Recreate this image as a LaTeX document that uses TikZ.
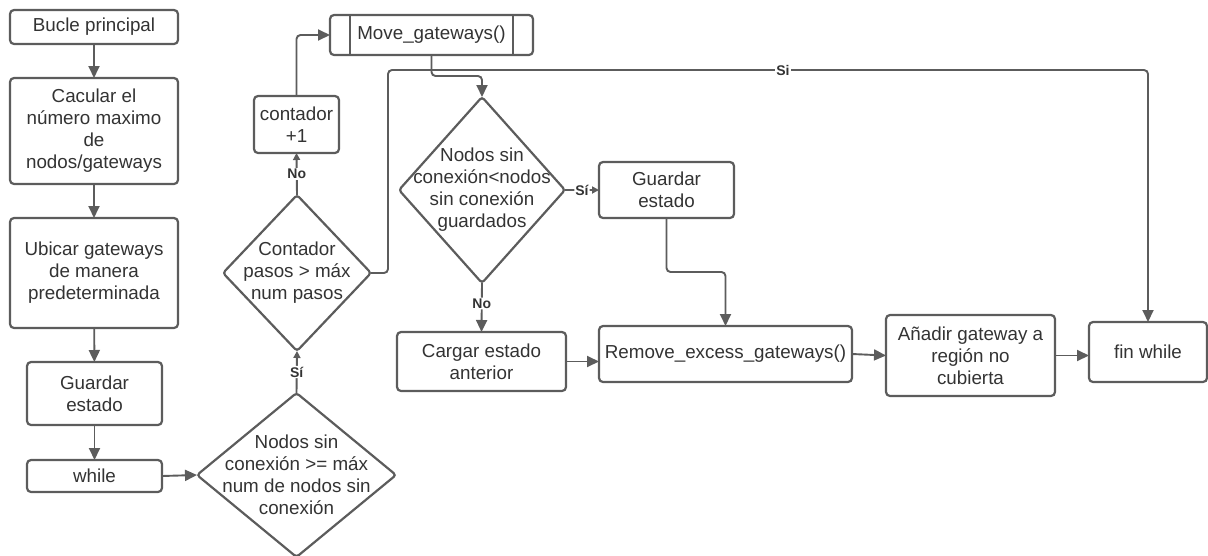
\documentclass[tikz,border=0pt]{standalone}
\usepackage{fontspec}
\setmainfont{Liberation Sans}
\usetikzlibrary{arrows.meta,shapes.geometric,calc}
\definecolor{lc}{HTML}{5C5C5C}
\definecolor{tc}{HTML}{333333}
\tikzset{
  base/.style={draw=lc, line width=2.2pt, fill=white, text=tc, align=center, inner sep=0pt, outer sep=0pt,
    font=\fontsize{18.8}{22}\selectfont},
  box/.style={base, rounded corners=4pt},
  dia/.style={draw=lc, line width=2.2pt, shape=diamond, inner sep=0pt, outer sep=0pt, rounded corners=3pt},
  dtext/.style={text=tc, align=center, inner sep=0pt, font=\fontsize{18.8}{22}\selectfont},
  conn/.style={draw=lc, line width=1.9pt, rounded corners=4pt, -{Triangle[length=12pt,width=11pt]}},
  sconn/.style={draw=lc, line width=1.9pt, rounded corners=4pt, -{Triangle[length=7pt,width=7pt]}},
  lbl/.style={fill=white, inner sep=1pt, text=tc, font=\bfseries\fontsize{14}{14}\selectfont},
}
\begin{document}
\begin{tikzpicture}[x=1pt,y=-1pt]
\useasboundingbox (0,0) rectangle (1208,555);
% left column
\node[box, minimum width=168pt, minimum height=34pt] (bucle) at (94,27) {Bucle principal};
\node[box, minimum width=168pt, minimum height=106pt] (calc) at (94,131) {Cacular el\\número maximo\\de\\nodos/gateways};
\node[box, minimum width=168pt, minimum height=110pt] (ubic) at (94,273) {Ubicar gateways\\de manera\\predeterminada};
\node[box, minimum width=135pt, minimum height=63pt] (guard1) at (94.5,393.5) {Guardar\\estado};
\node[box, minimum width=135pt, minimum height=32pt] (while) at (94.5,476) {while};
% diamonds
\node[dia, minimum width=199pt, minimum height=164pt] (d1) at (296.5,475) {};
\node[dtext] (d1t) at (d1) {Nodos sin\\conexión >= máx\\num de nodos sin\\conexión};
\node[dia, minimum width=148pt, minimum height=156pt] (d2) at (297,273) {};
\node[dtext] (d2t) at (d2) {Contador\\pasos > máx\\num pasos};
\node[box, minimum width=85pt, minimum height=57pt] (cont) at (296.5,124.5) {contador\\+1};
% move gateways
\node[box, minimum width=203pt, minimum height=40pt] (mg) at (431.5,35) {Move\_gateways()};
\draw[draw=lc, line width=2.2pt] ($(mg.north west)+(20,0)$) -- ($(mg.south west)+(20,0)$);
\draw[draw=lc, line width=2.2pt] ($(mg.north east)+(-20,0)$) -- ($(mg.south east)+(-20,0)$);
\node[dia, minimum width=166pt, minimum height=186pt] (d3) at (482,190) {};
\node[dtext] (d3t) at (d3) {Nodos sin\\conexión<nodos\\sin conexión\\guardados};
\node[box, minimum width=135pt, minimum height=56pt] (guard2) at (666.5,190) {Guardar\\estado};
\node[box, minimum width=169pt, minimum height=59pt] (carg) at (481.5,361.5) {Cargar estado\\anterior};
\node[box, minimum width=253pt, minimum height=56pt] (rem) at (725.5,354) {Remove\_excess\_gateways()};
\node[box, minimum width=169pt, minimum height=81pt] (an) at (970.5,355.5) {Añadir gateway a\\región no\\cubierta};
\node[box, minimum width=118pt, minimum height=60pt] (finw) at (1148,352) {fin while};
\coordinate (sitop) at (388,70);
% connectors
\draw[conn] (bucle) -- (calc);
\draw[conn] (calc) -- (ubic);
\draw[conn] (ubic) -- (guard1);
\draw[conn] (guard1) -- (while);
\draw[conn] (while.east) -- (d1.west);
\draw[sconn] (d1.north) -- node[lbl]{Sí} (d2.south);
\draw[sconn] (d2.north) -- node[lbl]{No} (cont.south);
\draw[conn] (cont.north) |- (mg.west);
\draw[conn] (mg.south) -- ++(0,21) -| (d3.north);
\draw[conn] (d2.east) -| (sitop) -| (finw.north);
\node[lbl] (silbl) at (783,70) {Si};
\draw[sconn] (d3.east) -- node[lbl]{Sí} (guard2.west);
\draw[conn] (guard2.south) -- ++(0,54) -| (rem.north);
\draw[conn] (d3.south) -- node[lbl, pos=0.42]{No} (carg.north);
\draw[conn] (carg.east) -- (carg.east -| rem.west);
\draw[conn] (rem.east) -- (an.west);
\draw[conn] (an.east) -- (an.east -| finw.west);
\end{tikzpicture}
\end{document}
